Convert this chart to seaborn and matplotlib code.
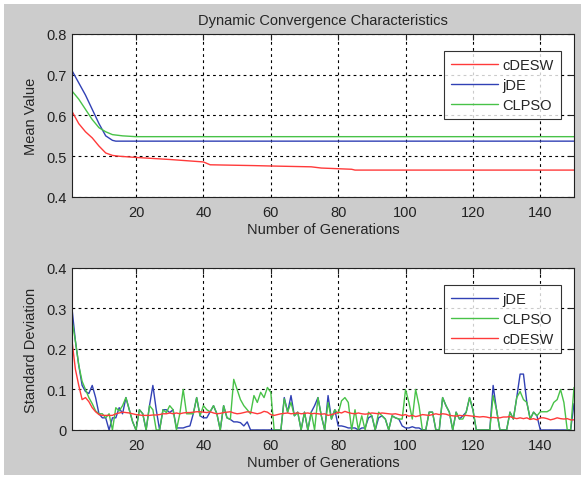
import numpy as np
import matplotlib
matplotlib.use("Agg")
import matplotlib.pyplot as plt
from matplotlib.patches import Rectangle
import seaborn as sns

# mean value curves (breakpoints)
cdesw_mean_gen = [1, 3, 5, 7, 9, 11, 13, 15, 20, 30, 40, 42, 55, 60, 72, 75, 84, 85, 150]
cdesw_mean = [0.61, 0.58, 0.56, 0.545, 0.525, 0.508, 0.502, 0.5, 0.497, 0.492, 0.486,
              0.479, 0.477, 0.476, 0.474, 0.471, 0.468, 0.466, 0.466]
jde_mean_gen = [1, 3, 5, 7, 9, 11, 13, 14, 150]
jde_mean = [0.71, 0.68, 0.65, 0.615, 0.58, 0.55, 0.539, 0.537, 0.537]
clpso_mean_gen = [1, 3, 5, 7, 9, 11, 13, 16, 20, 150]
clpso_mean = [0.66, 0.64, 0.615, 0.59, 0.57, 0.56, 0.553, 0.55, 0.548, 0.548]

# standard deviation per generation (1..150)
generations = list(range(1, 151))
jde_std = [
    0.30, 0.22, 0.16, 0.11, 0.095, 0.09, 0.11, 0.08, 0.04, 0.03,
    0.03, 0.0, 0.03, 0.03, 0.055, 0.04, 0.08, 0.05, 0.02, 0.0,
    0.05, 0.04, 0.0, 0.06, 0.11, 0.05, 0.0, 0.05, 0.05, 0.043,
    0.05, 0.005, 0.005, 0.005, 0.008, 0.01, 0.04, 0.08, 0.035, 0.03,
    0.03, 0.045, 0.06, 0.04, 0.0, 0.06, 0.03, 0.026, 0.02, 0.02,
    0.018, 0.01, 0.02, 0.0, 0.0, 0.0, 0.0, 0.0, 0.0, 0.0,
    0.0, 0.0, 0.0, 0.08, 0.044, 0.085, 0.035, 0.044, 0.0, 0.044,
    0.0, 0.044, 0.06, 0.08, 0.035, 0.0, 0.085, 0.027, 0.05, 0.01,
    0.01, 0.008, 0.005, 0.005, 0.005, 0.0, 0.005, 0.005, 0.03, 0.035,
    0.0, 0.03, 0.035, 0.027, 0.0, 0.035, 0.03, 0.027, 0.01, 0.005,
    0.005, 0.008, 0.005, 0.005, 0.0, 0.0, 0.044, 0.044, 0.0, 0.0,
    0.08, 0.06, 0.044, 0.0, 0.044, 0.027, 0.035, 0.044, 0.08, 0.05,
    0.0, 0.0, 0.0, 0.0, 0.0, 0.11, 0.05, 0.0, 0.0, 0.0,
    0.044, 0.027, 0.08, 0.138, 0.138, 0.068, 0.027, 0.044, 0.035, 0.0,
    0.0, 0.0, 0.0, 0.0, 0.0, 0.0, 0.0, 0.0, 0.0, 0.065,
]
clpso_std = [
    0.27, 0.22, 0.16, 0.12, 0.10, 0.08, 0.065, 0.047, 0.04, 0.04,
    0.03, 0.04, 0.0, 0.055, 0.047, 0.06, 0.08, 0.05, 0.02, 0.0,
    0.05, 0.04, 0.0, 0.06, 0.05, 0.0, 0.0, 0.05, 0.043, 0.06,
    0.05, 0.0, 0.04, 0.1, 0.04, 0.04, 0.04, 0.08, 0.035, 0.06,
    0.05, 0.045, 0.06, 0.04, 0.0, 0.06, 0.03, 0.026, 0.125, 0.1,
    0.075, 0.06, 0.05, 0.04, 0.085, 0.068, 0.093, 0.08, 0.105, 0.093,
    0.0, 0.0, 0.0, 0.077, 0.044, 0.068, 0.035, 0.044, 0.0, 0.044,
    0.0, 0.044, 0.0, 0.08, 0.035, 0.0, 0.068, 0.027, 0.05, 0.04,
    0.072, 0.08, 0.068, 0.0, 0.05, 0.0, 0.035, 0.0, 0.044, 0.035,
    0.0, 0.044, 0.035, 0.027, 0.0, 0.035, 0.03, 0.027, 0.027, 0.1,
    0.068, 0.027, 0.1, 0.06, 0.0, 0.0, 0.044, 0.044, 0.0, 0.0,
    0.08, 0.06, 0.044, 0.0, 0.044, 0.027, 0.027, 0.044, 0.08, 0.05,
    0.0, 0.0, 0.0, 0.0, 0.0, 0.085, 0.05, 0.0, 0.0, 0.0,
    0.044, 0.027, 0.08, 0.095, 0.075, 0.068, 0.027, 0.044, 0.035, 0.045,
    0.045, 0.045, 0.05, 0.068, 0.075, 0.1, 0.068, 0.0, 0.0, 0.105,
]
cdesw_std = [
    0.22, 0.15, 0.11, 0.075, 0.08, 0.07, 0.055, 0.045, 0.038, 0.036,
    0.036, 0.036, 0.036, 0.04, 0.042, 0.044, 0.043, 0.042, 0.04, 0.038,
    0.037, 0.036, 0.036, 0.036, 0.037, 0.037, 0.038, 0.04, 0.04, 0.042,
    0.04, 0.042, 0.04, 0.042, 0.043, 0.043, 0.044, 0.045, 0.045, 0.044,
    0.043, 0.045, 0.042, 0.04, 0.041, 0.043, 0.044, 0.045, 0.042, 0.04,
    0.041, 0.043, 0.045, 0.044, 0.042, 0.04, 0.042, 0.046, 0.044, 0.038,
    0.036, 0.038, 0.04, 0.041, 0.042, 0.04, 0.041, 0.042, 0.04, 0.041,
    0.042, 0.04, 0.041, 0.04, 0.039, 0.04, 0.036, 0.038, 0.04, 0.044,
    0.042, 0.046, 0.043, 0.041, 0.04, 0.042, 0.04, 0.039, 0.04, 0.042,
    0.041, 0.04, 0.042, 0.041, 0.04, 0.039, 0.04, 0.038, 0.036, 0.038,
    0.034, 0.036, 0.033, 0.035, 0.038, 0.037, 0.036, 0.038, 0.04, 0.038,
    0.04, 0.039, 0.036, 0.035, 0.034, 0.036, 0.035, 0.036, 0.035, 0.034,
    0.033, 0.032, 0.033, 0.032, 0.03, 0.031, 0.03, 0.03, 0.032, 0.032,
    0.033, 0.03, 0.028, 0.03, 0.028, 0.03, 0.026, 0.028, 0.025, 0.03,
    0.03, 0.028, 0.025, 0.027, 0.03, 0.028, 0.027, 0.028, 0.025, 0.025,
]

x_ticks = [20, 40, 60, 80, 100, 120, 140]
mean_ticks = [0.4, 0.5, 0.6, 0.7, 0.8]
std_ticks = [0, 0.1, 0.2, 0.3, 0.4]

RED = "#ff3a3a"
BLUE = "#3141b5"
GREEN = "#48c248"

sns.set_style("white")
plt.rcParams["font.family"] = ["Liberation Sans", "DejaVu Sans"]
plt.rcParams["font.size"] = 10

fig = plt.figure(figsize=(5.85, 4.81), dpi=100, facecolor="white")
fig.patches.append(Rectangle((4 / 585, 5 / 481), 577 / 585, 471 / 481,
                             transform=fig.transFigure, facecolor="#cccccc",
                             edgecolor="none", zorder=-10))
ax1 = fig.add_axes([0.1231, 0.5884, 0.8581, 0.3389])
ax2 = fig.add_axes([0.1231, 0.1040, 0.8581, 0.3368])

sns.lineplot(x=cdesw_mean_gen, y=cdesw_mean, ax=ax1, color=RED, lw=1, label="cDESW")
sns.lineplot(x=jde_mean_gen, y=jde_mean, ax=ax1, color=BLUE, lw=1, label="jDE")
sns.lineplot(x=clpso_mean_gen, y=clpso_mean, ax=ax1, color=GREEN, lw=1, label="CLPSO")

sns.lineplot(x=generations, y=jde_std, ax=ax2, color=BLUE, lw=1, label="jDE")
sns.lineplot(x=generations, y=clpso_std, ax=ax2, color=GREEN, lw=1, label="CLPSO")
sns.lineplot(x=generations, y=cdesw_std, ax=ax2, color=RED, lw=1, label="cDESW")

for ax, yt, ylab in [(ax1, mean_ticks, "Mean Value"), (ax2, std_ticks, "Standard Deviation")]:
    ax.set_facecolor("white")
    ax.set_xlim(1, 150)
    ax.set_ylim(yt[0], yt[-1])
    ax.set_xticks(x_ticks)
    ax.set_yticks(yt)
    ax.set_yticklabels([f"{v:g}" for v in yt])
    ax.grid(True, color="black", linestyle=(0, (2.5, 3)), lw=0.8)
    ax.tick_params(direction="in", top=True, right=True, length=4, width=0.8,
                   labelsize=10.5, colors="#222222")
    ax.tick_params(axis="x", pad=6)
    ax.tick_params(axis="y", pad=4)
    for s in ax.spines.values():
        s.set_visible(True)
        s.set_color("#222222")
        s.set_linewidth(0.8)
    ax.set_xlabel("Number of Generations", fontsize=10.5, labelpad=2)
    ax.set_ylabel(ylab, fontsize=10.5, labelpad=6)
    leg = ax.legend(loc="upper right", bbox_to_anchor=(0.988, 0.94), fontsize=10.5,
                    frameon=True, fancybox=False, edgecolor="black",
                    handlelength=3.2, labelspacing=0.4, borderpad=0.5,
                    handletextpad=0.3)
    leg.get_frame().set_linewidth(0.8)

ax1.set_title("Dynamic Convergence Characteristics", fontsize=10.5, pad=7)

fig.savefig("out.png", dpi=100, facecolor="white")
